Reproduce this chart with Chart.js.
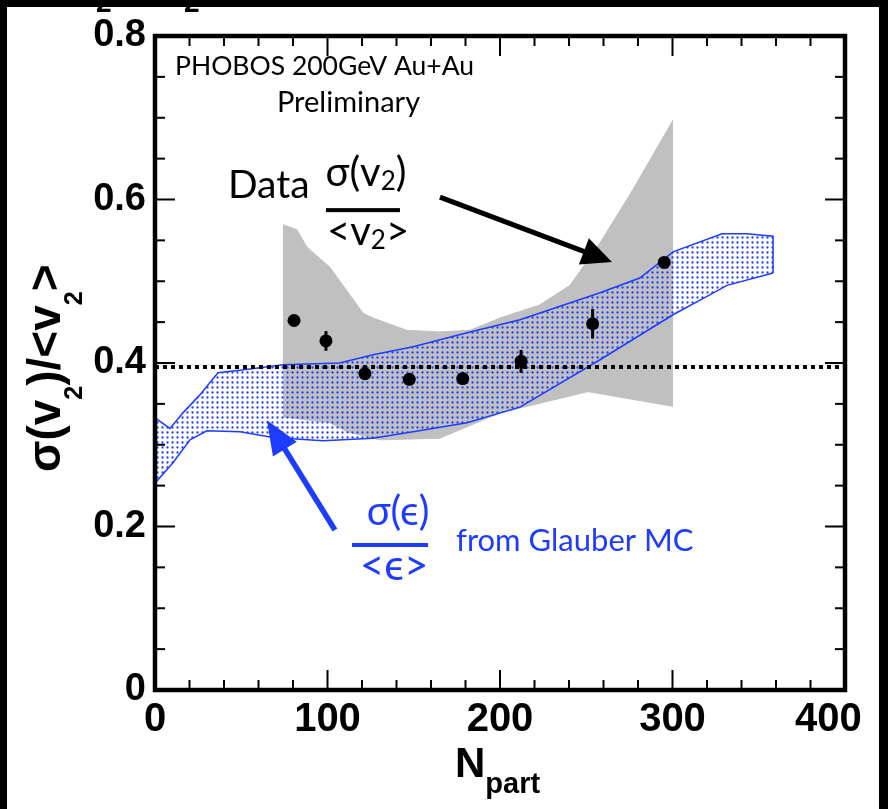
<!DOCTYPE html>
<html><head><meta charset="utf-8">
<script src="https://cdn.jsdelivr.net/npm/chart.js@4.4.0/dist/chart.umd.min.js"></script>
<style>html,body{margin:0;padding:0;background:#000;overflow:hidden}</style>
</head><body>
<canvas id="c" width="888" height="809"></canvas>
<script>
// ---- data ----
const nPart        = [80.6, 99.1, 121.7, 147.4, 178.4, 212.2, 253.7, 295.2];
const sigmaOverV2  = [0.452, 0.427, 0.387, 0.380, 0.381, 0.402, 0.448, 0.523];
const statErr      = [0.006, 0.012, 0.005, 0.004, 0.005, 0.014, 0.018, 0.005];

const sysUpperX = [74.2, 82.3, 88.0, 101.4, 111.0, 120.6, 126.4, 146.0, 165.0, 182.6, 200.0, 223.0, 240.6, 258.0, 277.0, 300.3];
const sysUpperY = [0.569, 0.563, 0.542, 0.517, 0.489, 0.461, 0.455, 0.440, 0.438, 0.440, 0.455, 0.471, 0.495, 0.547, 0.612, 0.697];
const sysLowerX = [74.2, 101.4, 111.3, 130.4, 165.0, 200.0, 251.0, 300.3];
const sysLowerY = [0.334, 0.327, 0.316, 0.306, 0.308, 0.339, 0.365, 0.347];

const glauberUpperX = [0, 8.7, 16.2, 26.0, 36.5, 49.3, 74.2, 107.0, 126.4, 149.6, 180.9, 211.6, 258.0, 281.0, 300.3, 328.7, 343.0, 358.3, 358.3];
const glauberUpperY = [0.333, 0.320, 0.339, 0.361, 0.388, 0.391, 0.398, 0.400, 0.410, 0.420, 0.437, 0.453, 0.486, 0.504, 0.536, 0.558, 0.558, 0.555, 0.510];
const glauberLowerX = [0, 10.4, 20.3, 30.1, 49.3, 68.4, 97.4, 126.4, 149.6, 180.9, 211.6, 258.0, 300.3, 316.0, 331.6, 358.3];
const glauberLowerY = [0.253, 0.278, 0.306, 0.317, 0.316, 0.309, 0.305, 0.308, 0.316, 0.327, 0.346, 0.404, 0.459, 0.477, 0.495, 0.510];

const refLevel = 0.395;
const xTickValues = [0, 100, 200, 300, 400];
const yTickValues = [0, 0.2, 0.4, 0.6, 0.8];

const zip = (xs, ys) => xs.map((x, i) => ({x, y: ys[i]}));

const BLUE = '#1e3cff';
const ANN = 'Lato, "Open Sans", sans-serif';
const AX = '"Liberation Sans", Arial, sans-serif';

const ctx = document.getElementById('c').getContext('2d');
const dotPattern = (() => {
  const c = document.createElement('canvas'); c.width = 5; c.height = 5;
  const g = c.getContext('2d'); g.fillStyle = BLUE;
  g.beginPath(); g.arc(2.5, 2.5, 1.15, 0, Math.PI * 2); g.fill();
  return ctx.createPattern(c, 'repeat');
})();

function richWidth(c, parts) {
  let w = 0;
  for (const p of parts) { c.font = `${p.w || 'normal'} ${p.s}px ${p.f}`; w += c.measureText(p.t).width; }
  return w;
}
function rich(c, parts, x, y, align) {
  let cx = align === 'center' ? x - richWidth(c, parts) / 2 : x;
  c.textAlign = 'left'; c.textBaseline = 'alphabetic';
  for (const p of parts) {
    c.font = `${p.w || 'normal'} ${p.s}px ${p.f}`;
    c.fillText(p.t, cx, y + (p.dy || 0));
    cx += c.measureText(p.t).width;
  }
}
function arrow(c, x1, y1, x2, y2, color, lw, headLen, headW) {
  const a = Math.atan2(y2 - y1, x2 - x1);
  const bx = x2 - headLen * Math.cos(a), by = y2 - headLen * Math.sin(a);
  c.strokeStyle = color; c.fillStyle = color; c.lineWidth = lw;
  c.beginPath(); c.moveTo(x1, y1); c.lineTo(bx + 4 * Math.cos(a), by + 4 * Math.sin(a)); c.stroke();
  c.beginPath(); c.moveTo(x2, y2);
  c.lineTo(bx + headW * Math.sin(a), by - headW * Math.cos(a));
  c.lineTo(bx - headW * Math.sin(a), by + headW * Math.cos(a));
  c.closePath(); c.fill();
}

const background = {
  id: 'background',
  beforeDraw(chart) {
    const c = chart.ctx;
    c.save();
    c.fillStyle = '#000'; c.fillRect(0, 0, chart.width, chart.height);
    c.fillStyle = '#fff'; c.fillRect(7, 7, 872, chart.height - 7);
    c.fillStyle = '#000'; c.font = `bold 28px ${AX}`; c.textAlign = 'left'; c.textBaseline = 'alphabetic';
    c.fillText('2', 96, 12); c.fillText('2', 184, 12);
    c.restore();
  }
};

const errorBars = {
  id: 'errorBars',
  afterDatasetsDraw(chart) {
    const c = chart.ctx, xs = chart.scales.x, ys = chart.scales.y;
    c.save(); c.strokeStyle = '#000'; c.lineWidth = 3;
    nPart.forEach((x, i) => {
      const px = xs.getPixelForValue(x);
      c.beginPath();
      c.moveTo(px, ys.getPixelForValue(sigmaOverV2[i] - statErr[i]));
      c.lineTo(px, ys.getPixelForValue(sigmaOverV2[i] + statErr[i]));
      c.stroke();
    });
    c.restore();
  }
};

const frame = {
  id: 'frame',
  afterDraw(chart) {
    const c = chart.ctx, xs = chart.scales.x, ys = chart.scales.y, a = chart.chartArea;
    c.save();
    c.strokeStyle = '#000'; c.lineWidth = 2;
    for (let v = 0; v <= 400.001; v += 20) {
      const px = xs.getPixelForValue(v), major = Math.abs(v % 100) < 1e-6;
      const L = major ? 20 : 10;
      c.beginPath(); c.moveTo(px, a.bottom); c.lineTo(px, a.bottom - L); c.stroke();
      c.beginPath(); c.moveTo(px, a.top); c.lineTo(px, a.top + L); c.stroke();
    }
    for (let k = 0; k <= 16; k++) {
      const v = k * 0.05, py = ys.getPixelForValue(v), major = k % 4 === 0;
      const L = major ? 20 : 10;
      c.beginPath(); c.moveTo(a.left, py); c.lineTo(a.left + L, py); c.stroke();
      c.beginPath(); c.moveTo(a.right, py); c.lineTo(a.right - L, py); c.stroke();
    }
    c.lineWidth = 4.5;
    c.strokeRect(a.left, a.top, a.right - a.left, a.bottom - a.top);

    // axis titles
    c.fillStyle = '#000';
    rich(c, [{t: 'N', s: 42, w: 'bold', f: AX}, {t: 'part', s: 29, w: 'bold', f: AX, dy: 16}], 455, 777, 'left');
    c.save();
    c.translate(60, 472); c.rotate(-Math.PI / 2);
    rich(c, [
      {t: 'σ(v', s: 46, w: 'bold', f: AX},
      {t: '2', s: 25, w: 'bold', f: AX, dy: 22},
      {t: ')/<v', s: 46, w: 'bold', f: AX},
      {t: '2', s: 25, w: 'bold', f: AX, dy: 22},
      {t: '>', s: 46, w: 'bold', f: AX}
    ], 0, 0, 'left');
    c.restore();

    // annotations (positions in data units)
    const X = v => xs.getPixelForValue(v), Y = v => ys.getPixelForValue(v);
    c.fillStyle = '#000';
    rich(c, [{t: 'PHOBOS 200GeV Au+Au', s: 26.5, f: ANN}], X(11.6), Y(0.7523), 'left');
    rich(c, [{t: 'Preliminary', s: 29, f: ANN}], X(70.7), Y(0.707), 'left');
    rich(c, [{t: 'Data', s: 39, f: ANN}], X(42.3), Y(0.6018), 'left');
    rich(c, [{t: 'σ(v', s: 40, f: ANN}, {t: '2', s: 26, f: ANN, dy: 4}, {t: ')', s: 40, f: ANN}], X(122.3), Y(0.6165), 'center');
    c.fillRect(X(99.1), Y(0.587) - 2, X(142) - X(99.1), 4);
    rich(c, [{t: '<v', s: 40, f: ANN}, {t: '2', s: 26, f: ANN, dy: 4}, {t: '>', s: 40, f: ANN}], X(123.5), Y(0.5443), 'center');
    arrow(c, X(165.2), Y(0.603), X(264.9), Y(0.5235), '#000', 5, 30, 14);

    c.fillStyle = BLUE;
    rich(c, [{t: 'σ(ϵ)', s: 40, f: ANN}], X(140.9), Y(0.2018), 'center');
    c.fillRect(X(114.2), Y(0.1774) - 2, X(158.3) - X(114.2), 4);
    rich(c, [{t: '<ϵ>', s: 42, f: ANN}], X(138.6), Y(0.1346), 'center');
    rich(c, [{t: 'from Glauber MC', s: 31, f: ANN}], X(174.5), Y(0.170), 'left');
    arrow(c, X(104.3), Y(0.1957), X(64.9), Y(0.330), BLUE, 5.5, 34, 14);
    c.restore();
  }
};

new Chart(ctx, {
  type: 'line',
  data: {
    datasets: [
      {data: zip(nPart, sigmaOverV2), showLine: false, pointRadius: 6.5, pointBackgroundColor: '#000', pointBorderWidth: 0, order: 1},
      {data: [{x: 0, y: refLevel}, {x: 400, y: refLevel}], borderColor: '#000', borderWidth: 4, borderDash: [4, 4], pointRadius: 0, fill: false, order: 2},
      {data: zip(glauberUpperX, glauberUpperY), borderColor: BLUE, borderWidth: 1.5, pointRadius: 0, fill: '+1', backgroundColor: dotPattern, order: 3},
      {data: zip(glauberLowerX, glauberLowerY), borderColor: BLUE, borderWidth: 1.5, pointRadius: 0, fill: false, order: 3},
      {data: zip(sysUpperX, sysUpperY), borderColor: '#c0c0c0', borderWidth: 1, pointRadius: 0, fill: '+1', backgroundColor: '#c0c0c0', order: 5},
      {data: zip(sysLowerX, sysLowerY), borderColor: '#c0c0c0', borderWidth: 1, pointRadius: 0, fill: false, order: 5}
    ]
  },
  options: {
    responsive: false, animation: false, devicePixelRatio: 1,
    layout: {padding: {left: 0, top: 36, right: 43, bottom: 0}},
    plugins: {legend: {display: false}, tooltip: {enabled: false}},
    scales: {
      x: {
        type: 'linear', min: 0, max: 400,
        afterBuildTicks(s) { s.ticks = xTickValues.map(v => ({value: v})); },
        afterFit(s) { s.height = 119; s.paddingLeft = 0; s.paddingRight = 0; },
        grid: {display: false, drawTicks: false}, border: {display: false},
        ticks: {font: {family: AX, weight: 'bold', size: 40}, color: '#000', padding: 6, maxRotation: 0, autoSkip: false,
                callback: v => (v === 400 ? String(v) + '   ' : String(v))}
      },
      y: {
        type: 'linear', min: 0, max: 0.8,
        afterBuildTicks(s) { s.ticks = yTickValues.map(v => ({value: v})); },
        afterFit(s) { s.width = 155; s.paddingTop = 0; s.paddingBottom = 0; },
        grid: {display: false, drawTicks: false}, border: {display: false},
        ticks: {font: {family: AX, weight: 'bold', size: 38}, color: '#000', padding: 9, autoSkip: false, callback: v => String(v)}
      }
    }
  },
  plugins: [background, errorBars, frame]
});
</script>
</body></html>
